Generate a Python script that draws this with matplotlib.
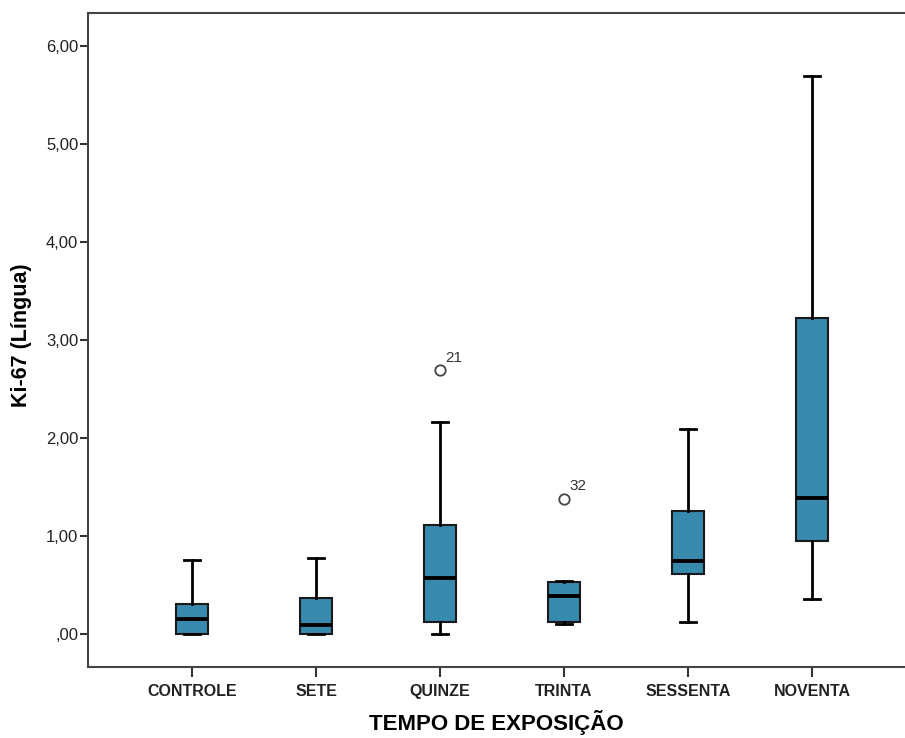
import matplotlib.pyplot as plt

plt.rcParams['font.family'] = ['Liberation Sans', 'DejaVu Sans']

# group names and box statistics
groups = ['CONTROLE', 'SETE', 'QUINZE', 'TRINTA', 'SESSENTA', 'NOVENTA']
whislo = [0.00, 0.00, 0.00, 0.10, 0.12, 0.36]
q1 = [0.00, 0.00, 0.12, 0.12, 0.61, 0.95]
med = [0.15, 0.09, 0.57, 0.39, 0.74, 1.39]
q3 = [0.31, 0.37, 1.11, 0.53, 1.26, 3.22]
whishi = [0.75, 0.78, 2.16, 0.54, 2.09, 5.69]
outliers = [[], [], [2.69], [1.38], [], []]
outlier_ids = [[], [], ['21'], ['32'], [], []]

stats = []
for i, g in enumerate(groups):
    stats.append({'label': g, 'whislo': whislo[i], 'q1': q1[i], 'med': med[i],
                  'q3': q3[i], 'whishi': whishi[i], 'fliers': outliers[i]})

fig = plt.figure(figsize=(9.05, 7.38), dpi=100)
ax = fig.add_axes([0.0972, 0.0962, 0.9028, 0.8862])

pos = list(range(1, len(groups) + 1))
ax.bxp(stats, positions=pos, widths=0.26, patch_artist=True, showfliers=True,
       boxprops=dict(facecolor='#3789ad', edgecolor='#1a1a1a', linewidth=1.5),
       medianprops=dict(color='black', linewidth=2.8),
       whiskerprops=dict(color='black', linewidth=2),
       capprops=dict(color='black', linewidth=2),
       capwidths=0.13,
       flierprops=dict(marker='o', markerfacecolor='none', markeredgecolor='#444444',
                       markersize=7.5, markeredgewidth=1.3))

# case numbers next to outliers
for i in range(len(groups)):
    for v, lab in zip(outliers[i], outlier_ids[i]):
        ax.annotate(lab, (pos[i], v), xytext=(4, 6), textcoords='offset points',
                    fontsize=11, color='#333333')

ax.set_xlim(0.16, 6.75)
ax.set_ylim(-0.337, 6.337)
ax.set_yticks([0, 1, 2, 3, 4, 5, 6])
ax.set_yticklabels([',00', '1,00', '2,00', '3,00', '4,00', '5,00', '6,00'])
ax.set_xticks(pos)
ax.set_xticklabels(groups, fontweight='bold')

ax.tick_params(axis='y', direction='out', length=6, width=1.5, colors='#333333',
               labelsize=12, pad=1)
ax.tick_params(axis='x', direction='out', length=7, width=1.5, colors='#333333',
               labelsize=11.5, pad=5)
for lab in ax.get_xticklabels() + ax.get_yticklabels():
    lab.set_color('#222222')

ax.spines['right'].set_visible(False)
for s in ['left', 'top', 'bottom']:
    ax.spines[s].set_color('#444444')
    ax.spines[s].set_linewidth(1.5)

ax.set_xlabel('TEMPO DE EXPOSIÇÃO', fontsize=16, fontweight='bold', labelpad=8)
ax.set_ylabel('Ki-67 (Língua)', fontsize=15.5, fontweight='bold')
ax.yaxis.set_label_coords(-0.068, 0.507)

fig.savefig('out.png', dpi=100)
